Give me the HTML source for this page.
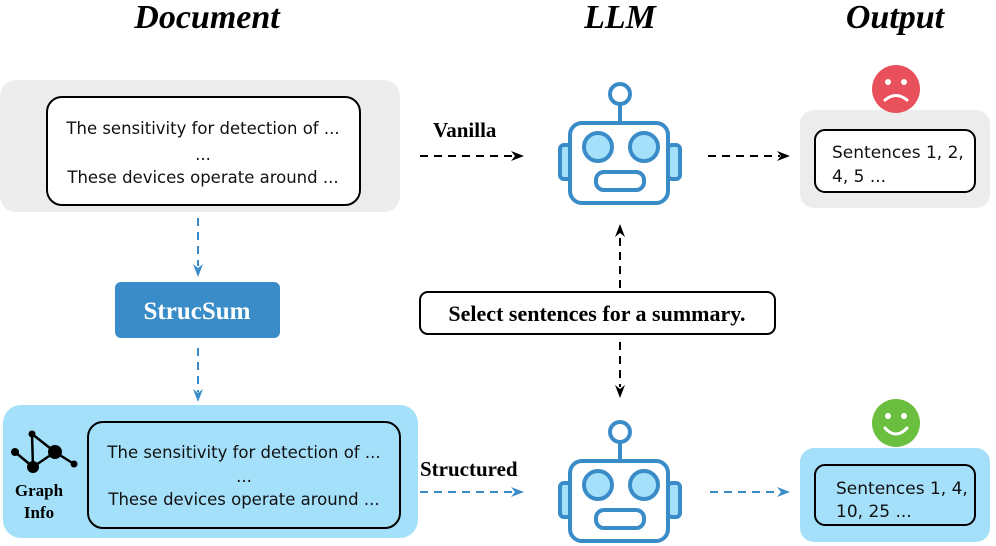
<!DOCTYPE html>
<html><head><style>body{margin:0;background:#fff}svg{display:block}</style></head><body>
<svg width="996" height="546" viewBox="0 0 996 546" xmlns="http://www.w3.org/2000/svg">
<defs>
<g id="robot" fill="none" stroke="#3a8cc8" stroke-width="4">
<line x1="620" y1="104" x2="620" y2="123"/>
<circle cx="620" cy="94" r="10" fill="#fff"/>
<rect x="560" y="145" width="12" height="34" rx="4" fill="#a5e0fb"/>
<rect x="668" y="145" width="12" height="34" rx="4" fill="#a5e0fb"/>
<rect x="570" y="123" width="98" height="80" rx="12" fill="#fff"/>
<circle cx="598" cy="147" r="14" fill="#a5e0fb"/>
<circle cx="644" cy="147" r="14" fill="#a5e0fb"/>
<rect x="596" y="172" width="48" height="18" rx="8" fill="#fff"/>
</g>
<path id="hr" d="M-13,-5 L0,0 L-13,5 L-9,0 Z"/>
</defs>
<g font-family="Liberation Serif,serif" font-weight="bold" font-style="italic" font-size="34" text-anchor="middle">
<text x="207" y="28">Document</text><text x="620" y="28">LLM</text><text x="895" y="28">Output</text></g>

<rect x="0" y="80" width="400" height="132" rx="16" fill="#ececec"/>
<rect x="47" y="97" width="313" height="108" rx="15" fill="#fff" stroke="#000" stroke-width="2"/>
<g font-family="DejaVu Sans,sans-serif" font-size="16.5" text-anchor="middle" fill="#111">
<text x="203" y="134">The sensitivity for detection of ...</text><text x="203" y="160">...</text><text x="203" y="183">These devices operate around ...</text></g>

<rect x="115" y="282" width="165" height="56" rx="6" fill="#3a8cc8"/>
<text x="197" y="319" font-family="Liberation Serif,serif" font-weight="bold" font-size="25" fill="#fff" text-anchor="middle">StrucSum</text>

<rect x="3" y="405" width="415" height="133" rx="18" fill="#a5e0fb"/>
<rect x="88" y="422" width="312" height="106" rx="15" fill="none" stroke="#000" stroke-width="2"/>
<g font-family="DejaVu Sans,sans-serif" font-size="16.5" text-anchor="middle" fill="#111">
<text x="244" y="458">The sensitivity for detection of ...</text><text x="244" y="482">...</text><text x="244" y="505">These devices operate around ...</text></g>
<g stroke="#000" stroke-width="2.5"><line x1="15" y1="452" x2="33" y2="467"/><line x1="33" y1="467" x2="32" y2="434"/><line x1="32" y1="434" x2="55" y2="452"/><line x1="33" y1="467" x2="55" y2="452"/><line x1="55" y1="452" x2="74" y2="464"/></g>
<g fill="#000"><circle cx="15" cy="452" r="4"/><circle cx="32" cy="434" r="3.5"/><circle cx="33" cy="467" r="6"/><circle cx="55" cy="452" r="7"/><circle cx="74" cy="464" r="3.5"/></g>
<g font-family="Liberation Serif,serif" font-weight="bold" font-size="17" text-anchor="middle"><text x="39" y="496">Graph</text><text x="39" y="518">Info</text></g>

<use href="#robot"/>
<use href="#robot" transform="translate(0,338)"/>

<rect x="800" y="110" width="190" height="98" rx="14" fill="#ececec"/>
<rect x="815" y="130" width="160" height="62" rx="10" fill="#fff" stroke="#000" stroke-width="2"/>
<g font-family="DejaVu Sans,sans-serif" font-size="17" fill="#111"><text x="832" y="158">Sentences 1, 2,</text><text x="832" y="182">4, 5 ...</text></g>
<circle cx="896" cy="89" r="24" fill="#e8505b"/>
<circle cx="888" cy="82" r="3" fill="#fff"/><circle cx="904" cy="82" r="3" fill="#fff"/>
<path d="M885 100 Q896 91 907 100" stroke="#fff" stroke-width="3" fill="none" stroke-linecap="round"/>

<rect x="800" y="448" width="190" height="94" rx="14" fill="#a5e0fb"/>
<rect x="815" y="465" width="160" height="60" rx="10" fill="none" stroke="#000" stroke-width="2"/>
<g font-family="DejaVu Sans,sans-serif" font-size="17" fill="#111"><text x="836" y="494">Sentences 1, 4,</text><text x="836" y="517">10, 25 ...</text></g>
<circle cx="896" cy="423" r="24" fill="#6abf3f"/>
<circle cx="888" cy="416" r="3" fill="#fff"/><circle cx="904" cy="416" r="3" fill="#fff"/>
<path d="M885 428 Q896 440 907 428" stroke="#fff" stroke-width="3" fill="none" stroke-linecap="round"/>

<rect x="420" y="292" width="355" height="42" rx="8" fill="#fff" stroke="#000" stroke-width="2"/>
<text x="597" y="321" font-family="Liberation Serif,serif" font-weight="bold" font-size="22" text-anchor="middle">Select sentences for a summary.</text>
<g font-family="Liberation Serif,serif" font-weight="bold" font-size="21"><text x="433" y="137">Vanilla</text><text x="420" y="476">Structured</text></g>

<g stroke-width="2" stroke-dasharray="8,6" fill="none">
<line x1="420" y1="156" x2="512" y2="156" stroke="#000"/>
<line x1="708" y1="156" x2="780" y2="156" stroke="#000"/>
<line x1="620" y1="288" x2="620" y2="234" stroke="#000"/>
<line x1="620" y1="342" x2="620" y2="387" stroke="#000"/>
<line x1="420" y1="492" x2="512" y2="492" stroke="#3a8cc8"/>
<line x1="710" y1="492" x2="780" y2="492" stroke="#3a8cc8"/>
<line x1="198" y1="218" x2="198" y2="266" stroke="#3a8cc8"/>
<line x1="198" y1="348" x2="198" y2="392" stroke="#3a8cc8"/>
</g>
<g fill="#000">
<use href="#hr" transform="translate(524,156)"/>
<use href="#hr" transform="translate(790,156)"/>
<use href="#hr" transform="translate(620,224) rotate(-90)"/>
<use href="#hr" transform="translate(620,398) rotate(90)"/>
</g>
<g fill="#3a8cc8">
<use href="#hr" transform="translate(524,492)"/>
<use href="#hr" transform="translate(790,492)"/>
<use href="#hr" transform="translate(198,277) rotate(90)"/>
<use href="#hr" transform="translate(198,402) rotate(90)"/>
</g>
</svg>
</body></html>
